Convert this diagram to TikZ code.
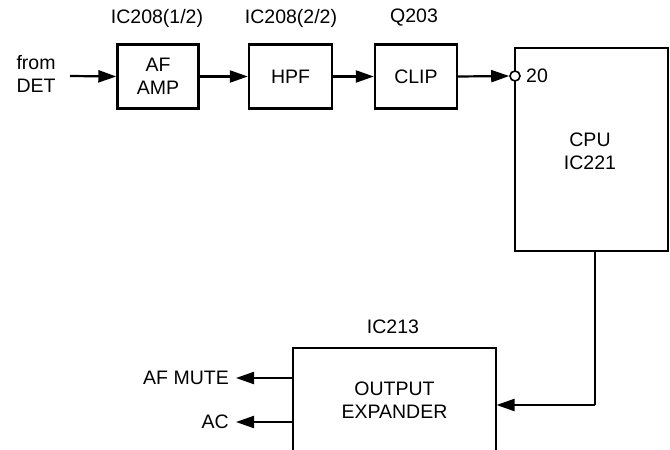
\documentclass[tikz,border=0pt]{standalone}
\usepackage{fontspec}
\setmainfont{Liberation Sans}
\usetikzlibrary{arrows.meta}
\begin{document}
\begin{tikzpicture}[x=1pt,y=-1pt,
  blk/.style={draw,line width=2.4pt,inner sep=0pt,align=center,font=\fontsize{19.5}{23}\selectfont},
  lbl/.style={inner sep=0pt,align=center,font=\fontsize{19.5}{23}\selectfont},
  conn/.style={line width=2.2pt,-{Triangle[length=18pt,width=12pt]}},
  wire/.style={line width=2.2pt}]
\useasboundingbox (0,0) rectangle (670,450);
\node[blk,minimum width=81pt,minimum height=64pt] (amp) at (158,76.5) {AF\\AMP};
\node[blk,minimum width=83pt,minimum height=64pt] (hpf) at (290.5,76.5) {HPF};
\node[blk,minimum width=82pt,minimum height=64pt] (clip) at (416,76.5) {CLIP};
\node[blk,minimum width=153pt,minimum height=203pt] (cpu) at (591.5,149.5) {};
\node[lbl] (cputxt) at (590,151) {CPU\\IC221};
\node[blk,minimum width=203pt,minimum height=104pt] (exp) at (394.5,400) {OUTPUT\\EXPANDER};
\node[lbl] (t1) at (157,18) {IC208(1/2)};
\node[lbl] (t2) at (291,18) {IC208(2/2)};
\node[lbl] (t3) at (414,18) {Q203};
\node[lbl] (t4) at (393,327) {IC213};
\node[lbl] (det) at (36,74) {from\\DET};
\node[lbl,anchor=east] (mute) at (229,378) {AF MUTE};
\node[lbl,anchor=east] (ac) at (229,422) {AC};
\node[lbl,anchor=west] (pin20) at (526,76) {20};
\node[draw,circle,fill=white,line width=1.6pt,minimum size=10pt,inner sep=0pt] (pin) at (515,76) {};
\coordinate (detend) at (70,76);
\coordinate (cpuout) at (595,251);
\coordinate (bend) at (595,405);
\coordinate (expin) at (496.5,405);
\coordinate (mutefrom) at (293,378);
\coordinate (acfrom) at (293,422);
\draw[conn] (detend) -- (amp.west);
\draw[conn] (amp.east) -- (hpf.west);
\draw[conn] (hpf.east) -- (clip.west);
\draw[conn] (clip.east) -- (pin.west);
\draw[wire] (cpuout) -- (bend);
\draw[conn] (bend) -- (expin);
\draw[conn] (mutefrom) -- ([xshift=7pt]mute.east);
\draw[conn] (acfrom) -- ([xshift=7pt]ac.east |- acfrom);
\end{tikzpicture}
\end{document}
